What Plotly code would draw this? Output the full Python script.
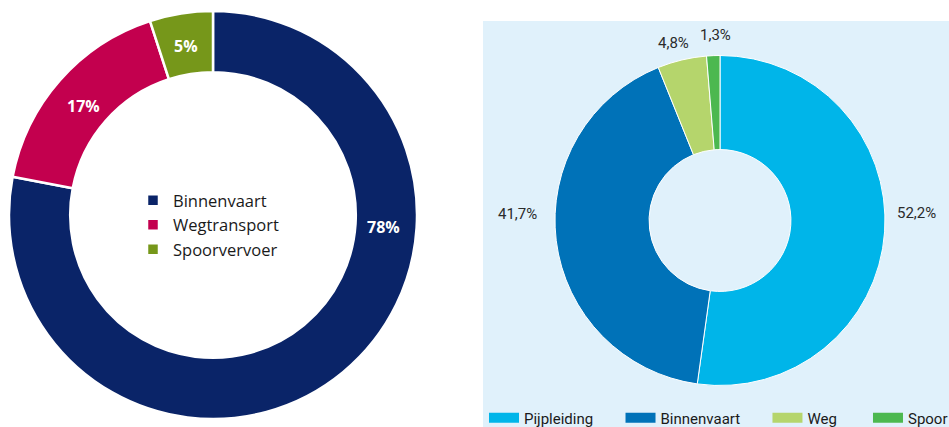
import plotly.graph_objects as go

# ---- data ----
left_labels = ["Binnenvaart", "Wegtransport", "Spoorvervoer"]
left_values = [78, 17, 5]
left_colors = ["#0a2468", "#c3004e", "#76971a"]

right_labels = ["Pijpleiding", "Binnenvaart", "Weg", "Spoor"]
right_values = [52.2, 41.7, 4.8, 1.3]
right_colors = ["#00b5e9", "#0072b8", "#b5d56c", "#4cb84f"]

# ---- layout helpers ----
FW, FH = 949, 427


def xp(x):
    return x / FW


def yp(y):
    return 1 - y / FH


COND = "Roboto, sans-serif"

# label anchor points (pixel centres in the picture)
left_label_pos = [(383, 227), (83, 106), (186, 46)]
right_label_pos = [(916, 213), (517, 214), (673, 43), (715, 35)]
# spacing (non-breaking spaces) after each right-legend entry
legend_pad = [6, 6, 7, 0]

fig = go.Figure()

fig.add_trace(go.Pie(
    labels=left_labels, values=left_values, hole=0.70, sort=False,
    direction="clockwise", rotation=0,
    marker=dict(colors=left_colors, line=dict(color="white", width=2.5)),
    textinfo="none",
    domain=dict(x=[xp(8), xp(418)], y=[yp(419), yp(11)]),
    legend="legend", showlegend=True,
))

# right pie uses distinct internal labels so the two legends do not merge
fig.add_trace(go.Pie(
    labels=[l + " (2)" for l in right_labels], values=right_values,
    hole=0.43, sort=False, direction="clockwise", rotation=0,
    marker=dict(colors=right_colors, line=dict(color="white", width=1)),
    textinfo="none", showlegend=False,
    domain=dict(x=[xp(555), xp(885)], y=[yp(386), yp(55)]),
))

# legend entries for the right chart (wide colour bars)
for lab, col, p in zip(right_labels, right_colors, legend_pad):
    fig.add_trace(go.Scatter(
        x=[None], y=[None], mode="lines", name=lab + "\u00a0" * p,
        line=dict(color=col, width=14), legend="legend2",
        hoverinfo="skip",
    ))

annotations = []
for v, (x, y) in zip(left_values, left_label_pos):
    annotations.append(dict(
        x=xp(x), y=yp(y), xref="paper", yref="paper", showarrow=False,
        text=f"{v}%", xanchor="center", yanchor="middle",
        font=dict(family="Open Sans", size=16, color="white", weight="bold"),
    ))
for v, (x, y) in zip(right_values, right_label_pos):
    annotations.append(dict(
        x=xp(x), y=yp(y), xref="paper", yref="paper", showarrow=False,
        text=f"{v:.1f}%".replace(".", ","), xanchor="center", yanchor="middle",
        font=dict(family=COND, size=15, color="#2b2b2b"),
    ))

fig.update_layout(
    width=FW, height=FH,
    margin=dict(l=0, r=0, t=0, b=0, autoexpand=False),
    paper_bgcolor="white", plot_bgcolor="rgba(0,0,0,0)",
    separators=",.",
    xaxis=dict(visible=False), yaxis=dict(visible=False),
    shapes=[dict(type="rect", xref="paper", yref="paper",
                 x0=xp(483), x1=1.02, y0=-0.05, y1=yp(21),
                 fillcolor="#e0f1fb", line=dict(width=0), layer="below")],
    annotations=annotations,
    legend=dict(
        x=xp(133), y=yp(183), xanchor="left", yanchor="top",
        orientation="v", bgcolor="rgba(0,0,0,0)",
        font=dict(family="Open Sans", size=16.5, color="#1a1a1a"),
        tracegroupgap=0,
    ),
    legend2=dict(
        x=xp(484), y=yp(418), xanchor="left", yanchor="middle",
        orientation="h", bgcolor="rgba(0,0,0,0)",
        font=dict(family=COND, size=15, color="#1a1a1a"),
    ),
)

fig.write_html(
    "out.html",
    config={"displayModeBar": False},
    post_script="document.body.style.margin='0';document.body.style.overflow='hidden';",
)
